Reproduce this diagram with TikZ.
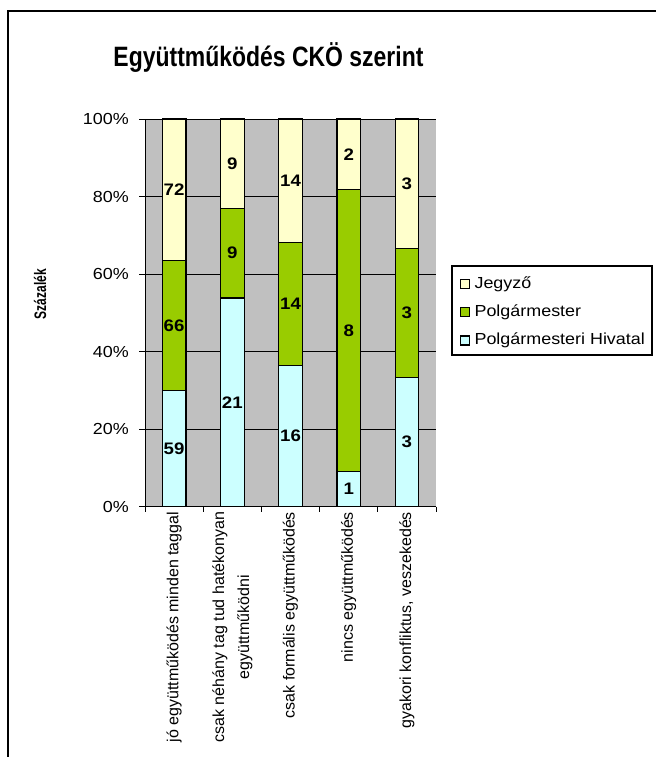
\documentclass[tikz,border=0pt]{standalone}
\usepackage{fontspec}
\setmainfont{Liberation Sans}
\usepackage{graphicx}
\definecolor{jegyzo}{HTML}{FFFFCC}
\definecolor{polg}{HTML}{99CC00}
\definecolor{hivatal}{HTML}{CCFFFF}
\definecolor{plotgray}{HTML}{C0C0C0}
\tikzset{
  barline/.style={draw=black,line width=0.9pt},
  datalbl/.style={inner sep=0pt,font=\fontsize{12.5}{14}\selectfont\bfseries},
  ticklbl/.style={inner sep=0pt,anchor=east,font=\fontsize{12}{14}\selectfont},
  catlbl/.style={inner sep=0pt,anchor=east,rotate=90,align=center,font=\fontsize{12}{18.75}\selectfont},
  leglbl/.style={inner sep=0pt,anchor=west,font=\fontsize{12}{14}\selectfont},
  legsq/.style={draw=black,line width=0.9pt,minimum size=6.75pt,inner sep=0pt},
  grid/.style={draw=black,line width=0.75pt},
}
\begin{document}
\begin{tikzpicture}[x=0.75pt,y=-0.75pt]
\useasboundingbox (0,0) rectangle (656,757);
% outer frame (left and top only visible)
\draw[line width=1.5pt] (7.7,757) -- (7.7,11) -- (656,11);
% title
\node[inner sep=0pt,anchor=base,font=\fontsize{21}{24}\selectfont\bfseries] (title) at (268.5,66.7) {\scalebox{0.82}[1]{Együttműködés CKÖ szerint}};
% plot area
\fill[plotgray] (145,119) rectangle (436,506.7);
\foreach \p in {20,40,60,80,100}{
  \draw[grid] (145,{506.7-3.877*\p}) -- (436,{506.7-3.877*\p});
  \draw[grid] (139,{506.7-3.877*\p}) -- (145,{506.7-3.877*\p});
}
\foreach \p in {0,20,40,60,80,100}{
  \node[ticklbl] (t\p) at (129,{506.7-3.877*\p}) {\scalebox{1.12}[1]{\p\%}};
}
\draw[grid] (139,506.7) -- (145,506.7);
% bars
\foreach \i/\a/\b/\c in {1/59/66/72, 2/21/9/9, 3/16/14/14, 4/1/8/2, 5/3/3/3}{
  \pgfmathsetmacro\cx{145+58.2*(\i-0.5)}
  \pgfmathsetmacro\tot{\a+\b+\c}
  \pgfmathsetmacro\ya{506.7-387.7*(\a/\tot)}
  \pgfmathsetmacro\yb{506.7-387.7*((\a+\b)/\tot)}
  \draw[barline,fill=hivatal] (\cx-11.8,506.7) rectangle (\cx+11.8,\ya);
  \draw[barline,fill=polg] (\cx-11.8,\ya) rectangle (\cx+11.8,\yb);
  \draw[barline,fill=jegyzo] (\cx-11.8,\yb) rectangle (\cx+11.8,119);
  \node[datalbl] (la\i) at (\cx,{(506.7+\ya)/2}) {\scalebox{1.12}[1]{\a}};
  \node[datalbl] (lb\i) at (\cx,{(\ya+\yb)/2}) {\scalebox{1.12}[1]{\b}};
  \node[datalbl] (lc\i) at (\cx,{(\yb+119)/2}) {\scalebox{1.12}[1]{\c}};
}
% axes
\draw[grid] (145,119) -- (145,506.7) -- (436,506.7);
\foreach \k in {0,...,5}{
  \draw[grid] ({145+58.2*\k},506.7) -- ({145+58.2*\k},512);
}
% category labels
\node[catlbl] (c1) at (174.1,511.7) {jó együttműködés minden taggal};
\node[catlbl] (c2) at (232.3,511.7) {csak néhány tag tud hatékonyan\\együttműködni};
\node[catlbl] (c3) at (290.5,511.7) {csak formális együttműködés};
\node[catlbl] (c4) at (348.7,511.7) {nincs együttműködés};
\node[catlbl] (c5) at (406.9,511.7) {gyakori konfliktus, veszekedés};
% y axis title
\node[inner sep=0pt,rotate=90,font=\fontsize{12.5}{14}\selectfont\bfseries] (ytitle) at (40,294) {\scalebox{0.72}[1]{Százalék}};
% legend
\draw[draw=black,line width=0.9pt,fill=white] (452,266) rectangle (652,355);
\node[legsq,fill=jegyzo] (sq1) at (464.7,284.3) {};
\node[legsq,fill=polg] (sq2) at (464.7,312.2) {};
\node[legsq,fill=hivatal] (sq3) at (464.7,340.5) {};
\node[leglbl] (g1) at (474.3,284.3) {\scalebox{1.12}[1]{Jegyző}};
\node[leglbl] (g2) at (474.3,312.2) {\scalebox{1.12}[1]{Polgármester}};
\node[leglbl] (g3) at (474.3,340.5) {\scalebox{1.12}[1]{Polgármesteri Hivatal}};
\end{tikzpicture}
\end{document}
